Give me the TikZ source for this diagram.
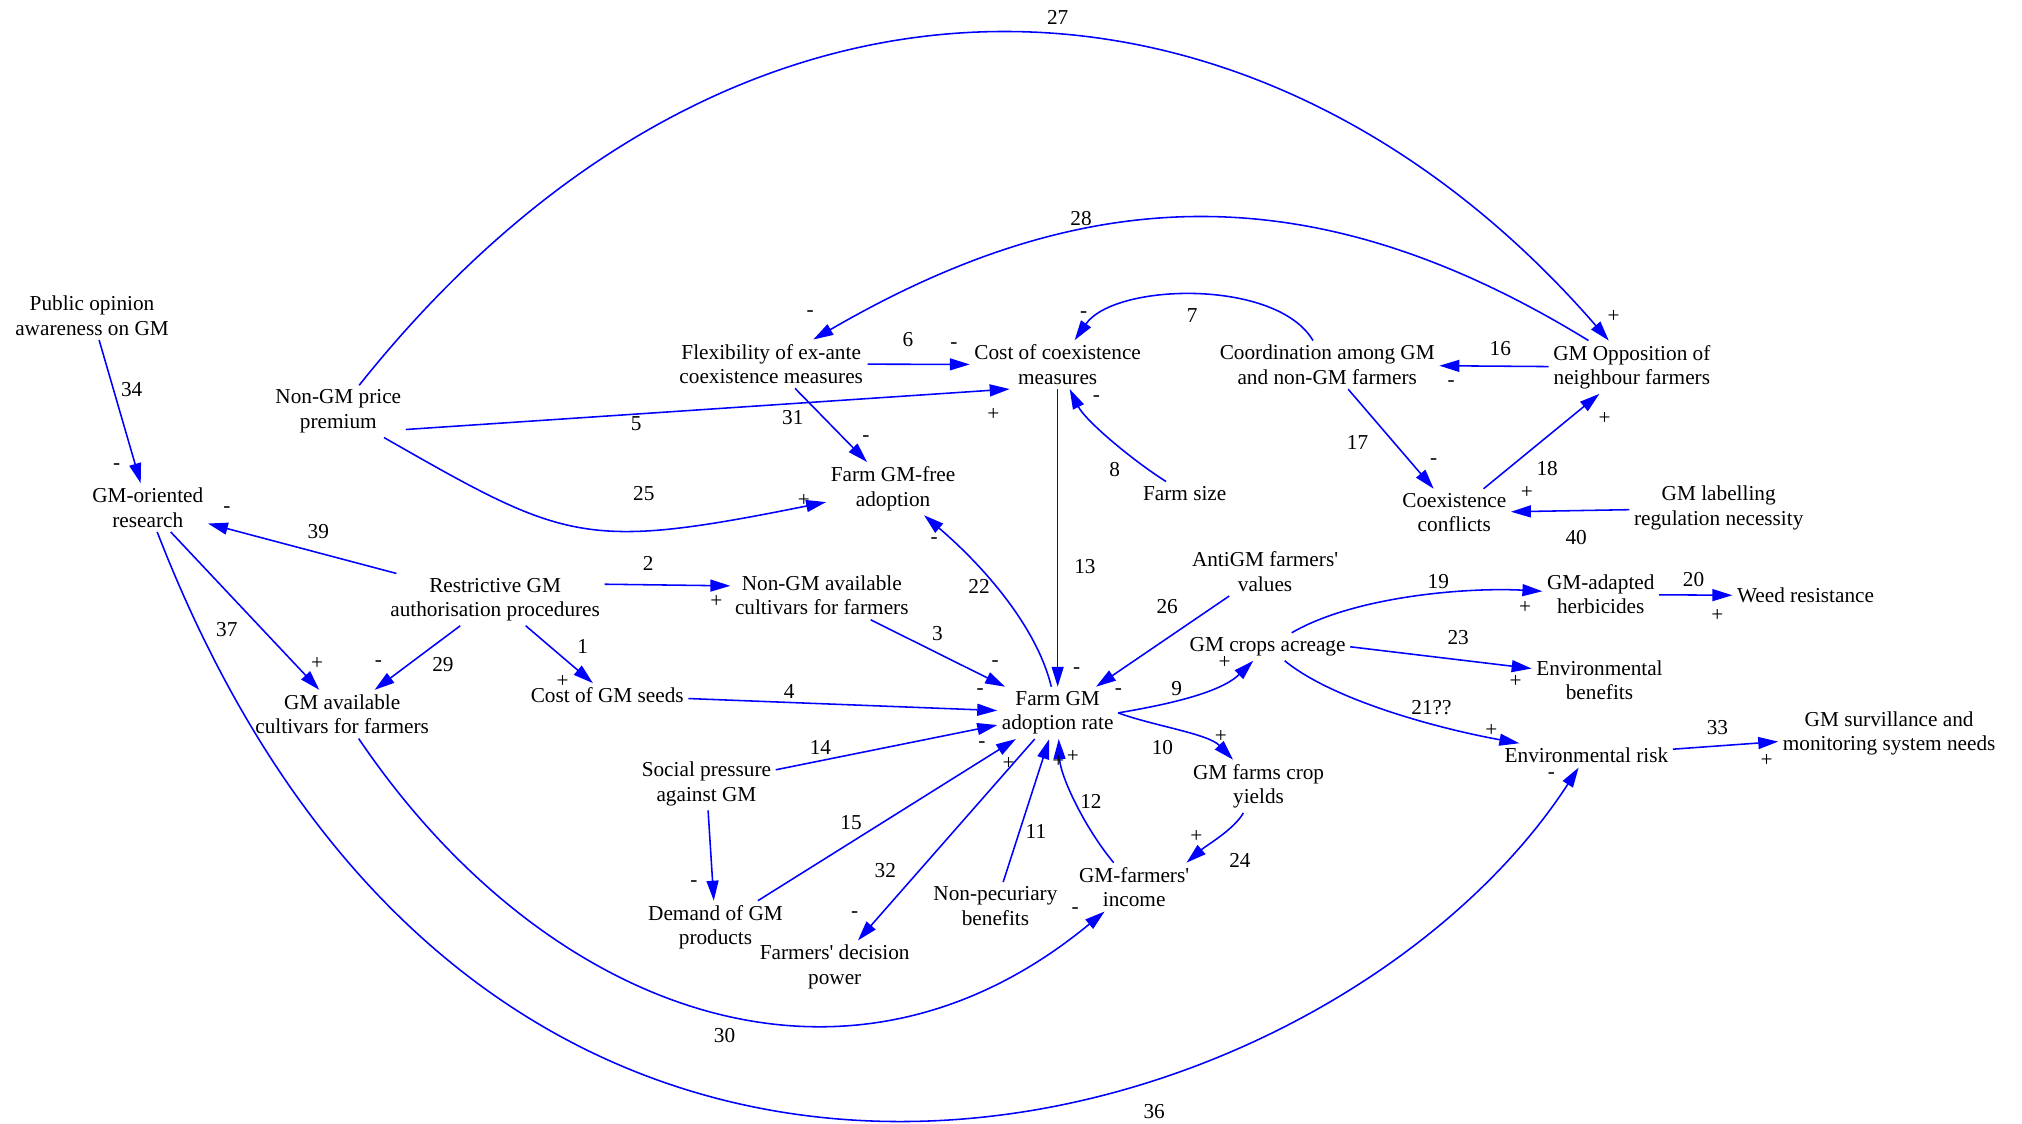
\documentclass[tikz,border=0pt]{standalone}
\usepackage{fontspec}
\setmainfont{Liberation Serif}
\usetikzlibrary{arrows.meta}

\begin{document}
\begin{tikzpicture}[x=0.5pt, y=-0.5pt, >={Triangle[length=7.7pt,width=4.6pt]},
    line width=0.6pt, font=\fontsize{8.2}{9.4}\selectfont,
    var/.style={align=center, inner sep=1.5pt},
    lbl/.style={inner sep=0pt},
    lnk/.style={->, blue}]
    \useasboundingbox (0,0) rectangle (1560,867);
    \newcommand{\vnode}[3]{\node[var] (#1) at (#2) {#3};}
    \newcommand{\elab}[3]{\node[lbl] (#1) at (#2) {#3};}

    \vnode{pub}{71,243.5}{Public opinion\\awareness on GM}
    \vnode{gmres}{114,391.6}{GM-oriented\\research}
    \vnode{nongmpp}{261,317.4}{Non-GM price\\premium}
    \vnode{restr}{382,462.6}{Restrictive GM\\authorisation procedures}
    \vnode{gmavail}{264,551}{GM available\\cultivars for farmers}
    \vnode{seeds}{468.5,536.5}{Cost of GM seeds}
    \vnode{nongmavail}{634,459.4}{Non-GM available\\cultivars for farmers}
    \vnode{flex}{595,280.8}{Flexibility of ex-ante\\coexistence measures}
    \vnode{costco}{816,281.3}{Cost of coexistence\\measures}
    \vnode{gmfree}{689,377}{Farm GM-free\\adoption}
    \vnode{farmsize}{914,380.6}{Farm size}
    \vnode{coord}{1024,281.5}{Coordination among GM\\and non-GM farmers}
    \vnode{opp}{1259,283.3}{GM Opposition of\\neighbour farmers}
    \vnode{coex}{1122,395.6}{Coexistence\\conflicts}
    \vnode{labelreg}{1326,392}{GM labelling\\regulation necessity}
    \vnode{anti}{976,441}{AntiGM farmers\textquotesingle\\values}
    \vnode{adopt}{816,550}{Farm GM\\adoption rate}
    \vnode{acre}{978,499}{GM crops acreage}
    \vnode{herb}{1235,458.6}{GM-adapted\\herbicides}
    \vnode{weed}{1393,459.6}{Weed resistance}
    \vnode{envben}{1234,525}{Environmental\\benefits}
    \vnode{envrisk}{1224,582.8}{Environmental risk}
    \vnode{surv}{1457.5,566}{GM survillance and\\monitoring system needs}
    \vnode{yields}{971,606.6}{GM farms crop\\yields}
    \vnode{social}{545,604.7}{Social pressure\\against GM}
    \vnode{demand}{552,715.4}{Demand of GM\\products}
    \vnode{power}{644,746}{Farmers\textquotesingle{} decision\\power}
    \vnode{nonpec}{768,699}{Non-pecuriary\\benefits}
    \vnode{income}{875,684.4}{GM-farmers\textquotesingle\\income}

    \draw[lnk] (pub) -- (gmres);
    \draw[lnk] (restr) -- (gmres);
    \draw[lnk] (gmres) -- (gmavail);
    \draw[lnk] (restr) -- (gmavail);
    \draw[lnk] (restr) -- (seeds);
    \draw[lnk] (restr.8) -- (nongmavail.174);
    \draw[lnk] (nongmavail) -- (adopt);
    \draw[lnk] (seeds) -- (adopt);
    \draw[lnk] (nongmpp.-15) -- (costco.207);
    \draw[lnk] (nongmpp) .. controls (437,418) and (450,425) .. (gmfree);
    \draw[lnk] (nongmpp) .. controls (574,-75) and (976,-43) .. (opp);
    \draw[lnk] (opp) .. controls (1011,131) and (834,142) .. (flex);
    \draw[lnk] (flex) -- (costco);
    \draw[lnk] (flex) -- (gmfree);
    \draw[lnk] (coord) .. controls (985,215) and (860,218) .. (costco);
    \draw[lnk] (farmsize) .. controls (872,354) and (837,324) .. (costco);
    \draw[lnk] (costco) -- (adopt);
    \draw[lnk] (adopt) .. controls (800,484) and (759.7,437.6) .. (gmfree);
    \draw[lnk] (opp) -- (coord);
    \draw[lnk] (coord) -- (coex);
    \draw[lnk] (coex) -- (opp);
    \draw[lnk] (labelreg) -- (coex);
    \draw[lnk] (anti) -- (adopt);
    \draw[lnk] (adopt.east) .. controls (892,545) and (940,536) .. (acre);
    \draw[lnk] (adopt.east) .. controls (890,560) and (932,566) .. (yields);
    \draw[lnk] (yields) .. controls (952,640) and (931,652) .. (income.25);
    \draw[lnk] (income) .. controls (837,639) and (818,599) .. (adopt);
    \draw[lnk] (nonpec) -- (adopt);
    \draw[lnk] (social) -- (adopt);
    \draw[lnk] (demand) -- (adopt);
    \draw[lnk] (social) -- (demand);
    \draw[lnk] (adopt) -- (power);
    \draw[lnk] (acre) .. controls (1045,460) and (1132,453) .. (herb);
    \draw[lnk] (herb) -- (weed);
    \draw[lnk] (acre.east) -- (envben.170);
    \draw[lnk] (acre) .. controls (1028,540) and (1109,562) .. (envrisk);
    \draw[lnk] (envrisk) -- (surv);
    \draw[lnk] (gmavail) .. controls (417.5,778) and (649.8,870.4) .. (income);
    \draw[lnk] (gmres) .. controls (381,1081) and (1026,888) .. (envrisk);

    \elab{n34}{101.6,300.4}{34} \elab{s34}{90,360}{-}
    \elab{n39}{245.6,410}{39} \elab{s39}{175,393}{-}
    \elab{n37}{175,486}{37} \elab{s37}{244.6,512}{+}
    \elab{n29}{341.7,513}{29} \elab{s29}{292,512}{-}
    \elab{n1}{449.5,498.5}{1} \elab{s1}{434,526}{+}
    \elab{n2}{500,435}{2} \elab{s2}{552.7,464}{+}
    \elab{n5}{490.8,326.6}{5} \elab{s5}{766.4,319.7}{+}
    \elab{n25}{496.7,380.6}{25} \elab{s25}{620.2,386.3}{+}
    \elab{n27}{816,13.4}{27} \elab{s27}{1245,243.8}{+}
    \elab{n28}{834,168.5}{28} \elab{s28}{625,242}{-}
    \elab{n6}{700.4,262}{6} \elab{s6}{736,267}{-}
    \elab{n31}{611.7,322.3}{31} \elab{s31}{668,338.7}{-}
    \elab{n7}{919.7,243.8}{7} \elab{s7}{836,243}{-}
    \elab{n8}{860,362}{8} \elab{s8}{845.8,307.4}{-}
    \elab{n13}{837,437}{13} \elab{s13}{830.6,517}{-}
    \elab{n22}{755.4,452.7}{22} \elab{s22}{720.7,417.2}{-}
    \elab{n3}{723.2,488.7}{3} \elab{s3}{767.7,511.8}{-}
    \elab{n26}{900.5,467.6}{26} \elab{s26}{862.9,533.7}{-}
    \elab{n4}{608.8,533.7}{4} \elab{s4}{756.2,533.7}{-}
    \elab{n14}{633,576.6}{14} \elab{s14}{757.5,574.8}{-}
    \elab{n15}{656.6,634.5}{15} \elab{s15}{778.1,589}{+}
    \elab{n11}{799.2,641.7}{11} \elab{s11}{816.6,587.7}{+}
    \elab{n12}{841.7,618.6}{12} \elab{s12}{827.7,583.8}{+}
    \elab{n32}{683,671.3}{32} \elab{s32}{659.4,706}{-}
    \elab{ssd}{535.4,681.6}{-}
    \elab{n30}{559,798.6}{30} \elab{s30}{829.5,702.2}{-}
    \elab{n36}{890.5,857.8}{36} \elab{s36}{1197,598.5}{-}
    \elab{n9}{907.8,531}{9} \elab{s9}{944.8,511}{+}
    \elab{n10}{896.8,576.6}{10} \elab{s10}{942,568}{+}
    \elab{n24}{956.6,664}{24} \elab{s24}{923,645.6}{+}
    \elab{n16}{1157.5,268.7}{16} \elab{s16}{1119.6,295.8}{-}
    \elab{n17}{1047.4,341.2}{17} \elab{s17}{1106,356}{-}
    \elab{n18}{1193.7,361.3}{18} \elab{s18}{1238,323}{+}
    \elab{n40}{1216,414.4}{40} \elab{s40}{1178,380.3}{+}
    \elab{n19}{1109.7,448.7}{19} \elab{s19}{1176.6,468.5}{+}
    \elab{n20}{1306.6,447.4}{20} \elab{s20}{1325,474.5}{+}
    \elab{n23}{1125,492}{23} \elab{s23}{1169.4,526}{+}
    \elab{n21}{1104.4,545.7}{21??} \elab{s21}{1150.6,563.3}{+}
    \elab{n33}{1325,561}{33} \elab{s33}{1363,587}{+}
\end{tikzpicture}
\end{document}
